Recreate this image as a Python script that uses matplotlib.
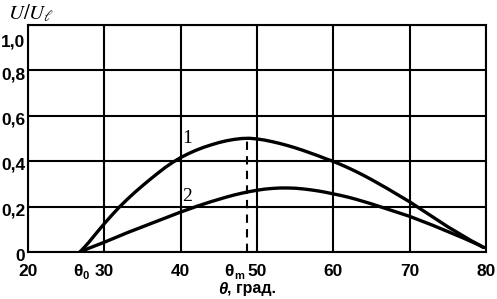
import matplotlib
matplotlib.use("Agg")
import matplotlib.pyplot as plt
from matplotlib.transforms import blended_transform_factory, offset_copy

# ---- data ----
theta1 = [26.8, 27.5, 28, 29, 30, 31, 32, 33, 34, 35, 36, 37, 38, 39, 40, 41, 42, 43, 44, 45,
          46, 47, 48, 49, 50, 51, 52, 53, 54, 55, 56, 57, 58, 59, 60, 61, 62, 63, 64, 65,
          66, 67, 68, 69, 70, 71, 72, 73, 74, 75, 76, 77, 78, 79, 79.7]
curve1 = [0.0, 0.025, 0.044, 0.085, 0.125, 0.163, 0.199, 0.232, 0.263, 0.292, 0.32, 0.347, 0.373,
          0.396, 0.416, 0.433, 0.448, 0.461, 0.472, 0.482, 0.49, 0.496, 0.5, 0.501, 0.498, 0.493,
          0.486, 0.478, 0.469, 0.459, 0.448, 0.436, 0.424, 0.411, 0.399, 0.385, 0.37, 0.354, 0.337,
          0.319, 0.3, 0.281, 0.261, 0.241, 0.221, 0.199, 0.177, 0.155, 0.133, 0.111, 0.091, 0.071,
          0.051, 0.033, 0.02]
theta2 = [26.8, 28, 29, 30, 31, 32, 33, 34, 35, 36, 37, 38, 39, 40, 41, 42, 43, 44, 45, 46,
          47, 48, 49, 50, 51, 52, 53, 54, 55, 56, 57, 58, 59, 60, 61, 62, 63, 64, 65, 66,
          67, 68, 69, 70, 71, 72, 73, 74, 75, 76, 77, 78, 79, 79.7]
curve2 = [0.0, 0.017, 0.03, 0.043, 0.057, 0.071, 0.085, 0.098, 0.111, 0.124, 0.137, 0.15, 0.163,
          0.176, 0.188, 0.2, 0.211, 0.222, 0.232, 0.242, 0.251, 0.259, 0.266, 0.272, 0.277, 0.28,
          0.282, 0.282, 0.281, 0.278, 0.274, 0.269, 0.263, 0.256, 0.249, 0.241, 0.232, 0.222, 0.212,
          0.201, 0.19, 0.179, 0.168, 0.157, 0.144, 0.131, 0.118, 0.104, 0.09, 0.076, 0.062, 0.047,
          0.032, 0.02]
theta_0 = 27.0
theta_m = 48.7
peak1 = 0.5
x_ticks = [20, 30, 40, 50, 60, 70, 80]
y_ticks = [0, 0.2, 0.4, 0.6, 0.8, 1.0]
y_labels = ["0", "0,2", "0,4", "0,6", "0,8", "1,0"]
curve_names = ["1", "2"]

plt.rcParams['mathtext.fontset'] = 'stix'
fig = plt.figure(figsize=(4.97, 2.99), dpi=100)
ax = fig.add_axes([28 / 497, 47 / 299, (486 - 28) / 497, (252 - 25) / 299])
ax.set_xlim(20, 80)
ax.set_ylim(0, 1.0)

for s in ax.spines.values():
    s.set_linewidth(1.5)
    s.set_color("black")

ax.set_xticks(x_ticks)
ax.set_yticks(y_ticks)
ax.set_yticklabels([])
ax.grid(True, color="black", linewidth=1.5)
ax.set_axisbelow(True)
ax.tick_params(length=0, labelsize=12.5)
ax.tick_params(axis="x", pad=9)
for lab in ax.get_xticklabels():
    lab.set_fontfamily("Liberation Sans")
    lab.set_fontweight("bold")

# y tick labels (drawn slightly below their gridlines, as in the reference)
ytrans = blended_transform_factory(ax.transAxes, ax.transData)
for val, lab in zip(y_ticks, y_labels):
    dy = -12 if val == 1.0 else -3
    t = offset_copy(ytrans, fig=fig, x=-2, y=dy, units="points")
    ax.text(0, val, lab, transform=t, fontsize=12.5, family="Liberation Sans", weight="bold",
            ha="right", va="center")

ax.plot(theta1, curve1, color="black", linewidth=2.4, solid_capstyle="round")
ax.plot(theta2, curve2, color="black", linewidth=2.4, solid_capstyle="round")
ax.plot([theta_m, theta_m], [0, peak1], color="black", linewidth=1.5, linestyle=(0, (4, 3)))

ax.text(40.9, 0.5, curve_names[0], fontsize=14, family="Liberation Serif", ha="center", va="center")
ax.text(40.9, 0.245, curve_names[1], fontsize=14, family="Liberation Serif", ha="center", va="center")

trans = blended_transform_factory(ax.transData, ax.transAxes)
tick_y = -0.085
sub_y = tick_y - 0.02
ax.text(theta_0 + 0.1, tick_y, "θ", transform=trans, fontsize=12.5, family="Liberation Sans",
        weight="bold", ha="right", va="center")
ax.text(theta_0 + 0.1, sub_y, "0", transform=trans, fontsize=8, family="Liberation Sans",
        weight="bold", ha="left", va="center")
ax.text(theta_m - 1.7, tick_y, "θ", transform=trans, fontsize=12.5, family="Liberation Sans",
        weight="bold", ha="right", va="center")
ax.text(theta_m - 1.7, sub_y, "m", transform=trans, fontsize=8, family="Liberation Sans",
        weight="bold", ha="left", va="center")

fig.text(227 / 497, 1 - 289 / 299, "θ", fontsize=12, family="Liberation Sans", weight="bold",
         style="italic", ha="right", va="center")
fig.text(227 / 497, 1 - 289 / 299, ", град.", fontsize=11.5, family="Liberation Sans", weight="bold",
         ha="left", va="center")

fig.text(8 / 497, 1 - 13 / 299, r"$U/U_{\ell}$", fontsize=15, ha="left", va="center")

fig.savefig("out.png", dpi=100)
